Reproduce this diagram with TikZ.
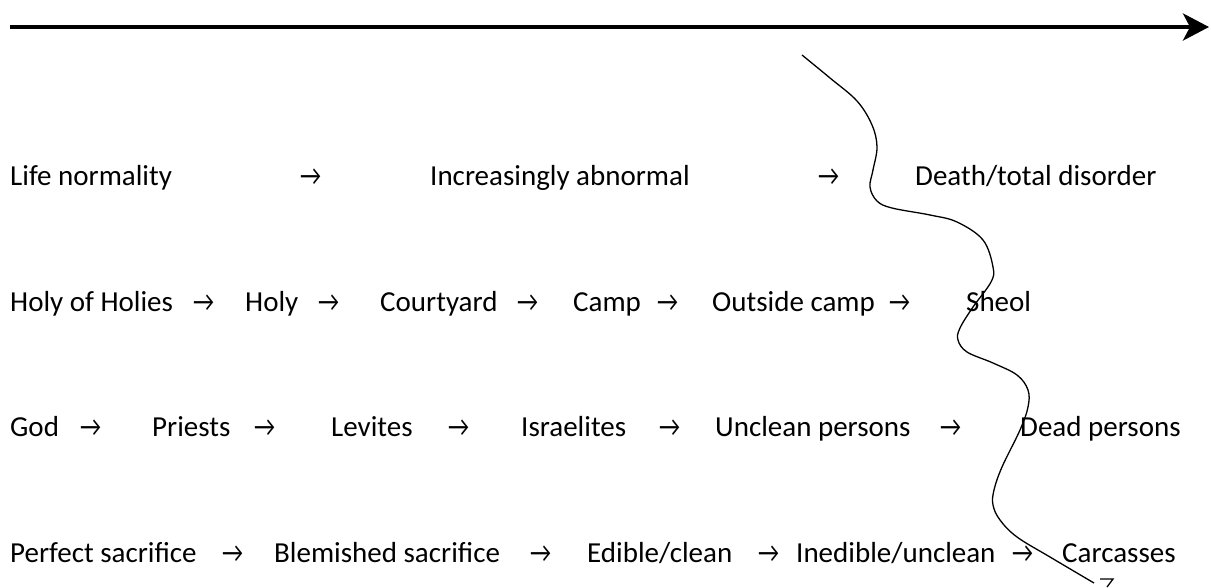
\documentclass[tikz,border=0pt]{standalone}
\usepackage{fontspec}
\setmainfont{Carlito}
\usetikzlibrary{arrows.meta}
\newcommand{\rarr}{\scalebox{0.8}[1]{→}}
\tikzset{
  lbl/.style={anchor=base west, inner sep=0pt, font=\fontsize{29}{34}\selectfont},
  arr/.style={anchor=base west, inner sep=0pt, font=\fontsize{29}{34}\selectfont},
}
\begin{document}
\begin{tikzpicture}[x=1pt,y=-1pt]
\useasboundingbox (0,0) rectangle (1211,587);
% top axis
\coordinate (axs) at (10,27);
\coordinate (axe) at (1209,27);
\draw[line width=4pt, -{Stealth[length=26pt,width=27pt,inset=7pt]}] (axs) -- (axe);
% row 1
\node[lbl] (r1a) at (10,185) {Life normality};
\node[arr] (r1x) at (300,185) {\rarr};
\node[lbl] (r1b) at (430,185) {Increasingly abnormal};
\node[arr] (r1y) at (818,185) {\rarr};
\node[lbl] (r1c) at (915,185) {Death/total disorder};
% row 2
\node[lbl] (r2a) at (10,311) {Holy of Holies};
\node[arr] (r2x1) at (193,311) {\rarr};
\node[lbl] (r2b) at (245,311) {Holy};
\node[arr] (r2x2) at (318,311) {\rarr};
\node[lbl] (r2c) at (380,311) {Courtyard};
\node[arr] (r2x3) at (517,311) {\rarr};
\node[lbl] (r2d) at (573,311) {Camp};
\node[arr] (r2x4) at (657,311) {\rarr};
\node[lbl] (r2e) at (712,311) {Outside camp};
\node[arr] (r2x5) at (889,311) {\rarr};
\node[lbl] (r2f) at (966,311) {Sheol};
% row 3
\node[lbl] (r3a) at (10,436) {God};
\node[arr] (r3x1) at (80,436) {\rarr};
\node[lbl] (r3b) at (152,436) {Priests};
\node[arr] (r3x2) at (254,436) {\rarr};
\node[lbl] (r3c) at (331,436) {Levites};
\node[arr] (r3x3) at (448,436) {\rarr};
\node[lbl] (r3d) at (521,436) {Israelites};
\node[arr] (r3x4) at (659,436) {\rarr};
\node[lbl] (r3e) at (715,436) {Unclean persons};
\node[arr] (r3x5) at (940,436) {\rarr};
\node[lbl] (r3f) at (1020,436) {Dead persons};
% row 4
\node[lbl] (r4a) at (10,562) {Perfect sacrifice};
\node[arr] (r4x1) at (222,562) {\rarr};
\node[lbl] (r4b) at (274,562) {Blemished sacrifice};
\node[arr] (r4x2) at (530,562) {\rarr};
\node[lbl] (r4c) at (587,562) {Edible/clean};
\node[arr] (r4x3) at (758,562) {\rarr};
\node[lbl] (r4d) at (796,562) {Inedible/unclean};
\node[arr] (r4x4) at (1012,562) {\rarr};
\node[lbl] (r4e) at (1062,562) {Carcasses};
% wavy boundary
\draw[line width=1.3pt, line join=round] plot[smooth, tension=0.6] coordinates {
 (802,55) (830,78) (857,101) (872,125) (877,147) (873,170) (870,187)
 (877,201) (892,208) (930,215) (957,222) (983,240) (993,267) (991,282)
 (973,307) (960,328) (958,340) (967,352) (993,363) (1017,375) (1028,390)
 (1028,407) (1020,430) (1002,467) (994,490) (993,505) (1000,520)
 (1017,537) (1050,557) (1094,583)};
\draw[line width=1.3pt] (1100,579) -- (1113,579) -- (1107,587);
\end{tikzpicture}
\end{document}
